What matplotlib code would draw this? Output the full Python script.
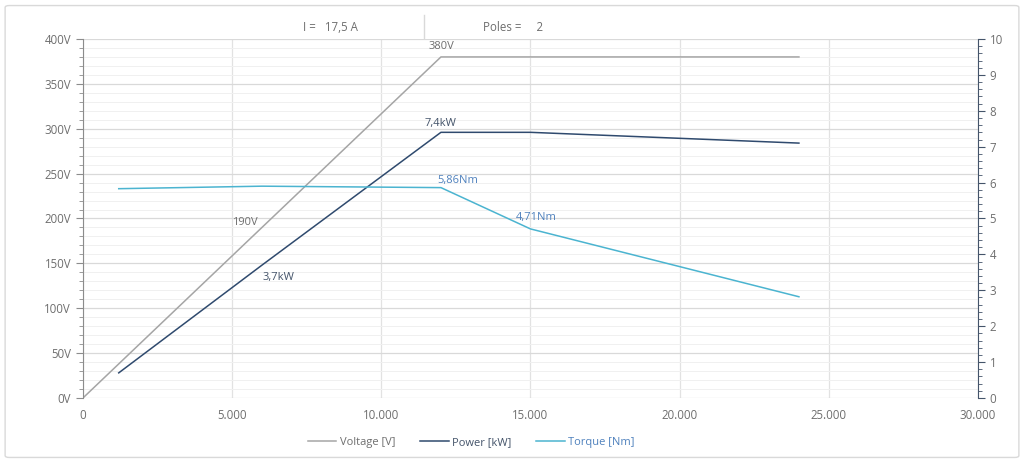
import matplotlib.pyplot as plt
from matplotlib.ticker import MultipleLocator, FuncFormatter
from matplotlib.patches import FancyBboxPatch
from matplotlib.lines import Line2D

# speed [rpm]
volt_x = [0, 12000, 24000]
volt_y = [0, 380, 380]
power_x = [1200, 6000, 12000, 15000, 24000]
power_y = [0.70, 3.7, 7.4, 7.4, 7.1]
torque_x = [1200, 6000, 12000, 15000, 24000]
torque_y = [5.83, 5.9, 5.86, 4.71, 2.82]

c_volt = '#a5a5a5'
c_power = '#2f4a6e'
c_torque = '#4bb4d0'
c_text = '#6e6e6e'

plt.rcParams['font.family'] = ['Open Sans', 'DejaVu Sans']

fig = plt.figure(figsize=(10.24, 4.63), dpi=100)
border = FancyBboxPatch((0.005, 0.012), 0.99, 0.976, boxstyle='round,pad=0,rounding_size=0.004',
                        transform=fig.transFigure, fc='none', ec='#d9d9d9', lw=1, zorder=-10)
fig.patches.append(border)

ax = fig.add_axes([0.081, 0.1404, 0.874, 0.7754])
ax2 = ax.twinx()

ax.set_xlim(0, 30000)
ax.set_ylim(0, 400)
ax2.set_ylim(0, 10)

ax.xaxis.set_major_locator(MultipleLocator(5000))
ax.yaxis.set_major_locator(MultipleLocator(50))
ax.yaxis.set_minor_locator(MultipleLocator(10))
ax2.yaxis.set_major_locator(MultipleLocator(1))
ax2.yaxis.set_minor_locator(MultipleLocator(0.2))

ax.xaxis.set_major_formatter(FuncFormatter(lambda v, p: '0' if v == 0 else f'{int(v):,}'.replace(',', '.')))
ax.yaxis.set_major_formatter(FuncFormatter(lambda v, p: f'{int(v)}V'))
ax2.yaxis.set_major_formatter(FuncFormatter(lambda v, p: f'{int(v)}'))

ax.grid(True, which='major', axis='y', color='#d9d9d9', lw=0.9)
ax.grid(True, which='major', axis='x', color='#e2e2e2', lw=0.9)
ax.grid(True, which='minor', axis='y', color='#f0f0f0', lw=0.7)
ax.set_axisbelow(True)

for s in ['top', 'right']:
    ax.spines[s].set_visible(False)
for s in ['top', 'left', 'bottom']:
    ax2.spines[s].set_visible(False)
ax.spines['left'].set_color('#8c8c8c')
ax.spines['bottom'].set_visible(False)
ax2.spines['right'].set_color('#44546a')

ax.tick_params(axis='y', which='major', length=5, color='#8c8c8c', labelsize=8.3, labelcolor=c_text)
ax.tick_params(axis='y', which='minor', length=3, color='#8c8c8c')
ax.tick_params(axis='x', length=0, labelsize=8.3, labelcolor=c_text, pad=8)
ax2.tick_params(axis='y', which='major', length=5, color='#44546a', labelsize=8.3, labelcolor=c_text)
ax2.tick_params(axis='y', which='minor', length=3, color='#44546a')

ax.plot(volt_x, volt_y, color=c_volt, lw=1.1)
ax2.plot(power_x, power_y, color=c_power, lw=1.1)
ax2.plot(torque_x, torque_y, color=c_torque, lw=1.1)

ax.text(volt_x[1], volt_y[1] + 6, '380V', color=c_text, fontsize=8, ha='center', va='bottom')
ax.text(5430, 196, '190V', color=c_text, fontsize=8, ha='center', va='center')
ax2.text(power_x[2], power_y[2] + 0.1, '7,4kW', color='#44546a', fontsize=8, ha='center', va='bottom')
ax2.text(6540, 3.37, '3,7kW', color='#44546a', fontsize=8, ha='center', va='center')
ax2.text(12570, 6.07, '5,86Nm', color='#4f81bd', fontsize=8, ha='center', va='center')
ax2.text(15200, 5.04, '4,71Nm', color='#4f81bd', fontsize=8, ha='center', va='center')

fig.text(0.323, 0.94, 'I =   17,5 A', color=c_text, fontsize=8.3, ha='center', va='center')
fig.text(0.501, 0.94, 'Poles =     2', color=c_text, fontsize=8.3, ha='center', va='center')
fig.add_artist(Line2D([0.414, 0.414], [0.918, 0.968], transform=fig.transFigure, color='#d9d9d9', lw=1))

handles = [Line2D([], [], color=c_volt, lw=1.1), Line2D([], [], color=c_power, lw=1.1),
           Line2D([], [], color=c_torque, lw=1.1)]
leg = fig.legend(handles, ['Voltage [V]', 'Power [kW]', 'Torque [Nm]'], loc='center', bbox_to_anchor=(0.46, 0.045),
                 ncol=3, frameon=False, fontsize=8, handlelength=2.6, columnspacing=2.2, handletextpad=0.3)
for t, c in zip(leg.get_texts(), [c_text, '#44546a', '#4f81bd']):
    t.set_color(c)

fig.savefig('out.png', dpi=100)
